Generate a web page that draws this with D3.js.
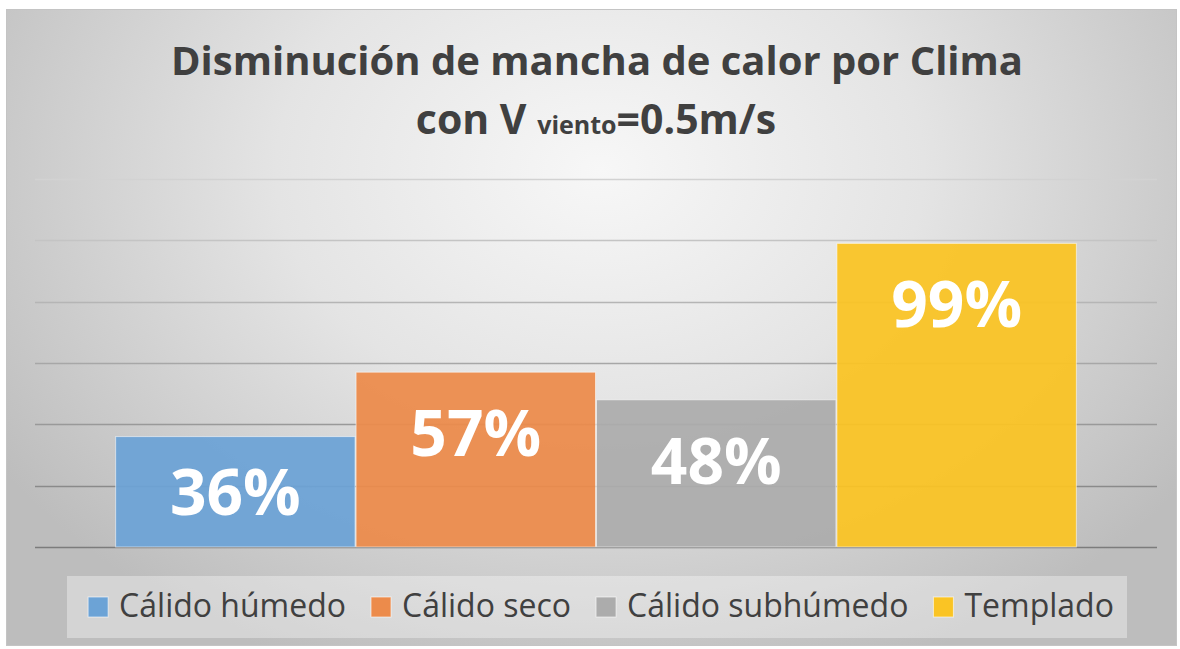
<!DOCTYPE html>
<html>
<head>
<meta charset="utf-8">
<script src="https://cdn.jsdelivr.net/npm/d3@7"></script>
<style>
  html, body { margin: 0; padding: 0; background: #fff; }
  svg text { font-family: "Open Sans", "Noto Sans", sans-serif; }
</style>
</head>
<body>
<div id="chart"></div>
<script>
const climas = ["Cálido húmedo", "Cálido seco", "Cálido subhúmedo", "Templado"];
const valores = [0.36, 0.57, 0.48, 0.99];
const colores = ["#6ca3d6", "#ec8b4b", "#acacac", "#fac424"];
const gridTicks = [0, 0.2, 0.4, 0.6, 0.8, 1.0, 1.2];

const W = 1180, H = 649;
const plot = {left: 35, right: 1157, top: 179, bottom: 547};

const svg = d3.select("#chart").append("svg")
    .attr("width", W)
    .attr("height", H);

const defs = svg.append("defs");
const bg = defs.append("radialGradient")
    .attr("id", "bg")
    .attr("gradientUnits", "userSpaceOnUse")
    .attr("cx", 600).attr("cy", 170).attr("r", 720)
    .attr("gradientTransform", "translate(600,170) scale(1,0.75) translate(-600,-170)");
bg.append("stop").attr("offset", "0").attr("stop-color", "#f7f7f7");
bg.append("stop").attr("offset", "0.45").attr("stop-color", "#e4e4e4");
bg.append("stop").attr("offset", "1").attr("stop-color", "#bdbdbd");

// chart frame
svg.append("rect")
    .attr("x", 6.5).attr("y", 9.5)
    .attr("width", 1170).attr("height", 636)
    .attr("fill", "url(#bg)")
    .attr("stroke", "#c4c4c4");

const x = d3.scaleBand()
    .domain(climas)
    .range([plot.left, plot.right])
    .paddingInner(0)
    .paddingOuter(1 / 3);

const y = d3.scaleLinear()
    .domain([0, 1.2])
    .range([plot.bottom, plot.top]);

const gridColor = d3.scaleLinear()
    .domain([1.2, 0])
    .range(["#d2d2d2", "#7c7c7c"]);

svg.append("g")
    .selectAll("line")
    .data(gridTicks)
    .join("line")
    .attr("x1", plot.left)
    .attr("x2", plot.right)
    .attr("y1", d => Math.round(y(d)) + 0.5)
    .attr("y2", d => Math.round(y(d)) + 0.5)
    .attr("stroke", d => gridColor(d))
    .attr("stroke-width", d => d === 0 ? 1.6 : 1.3);

const bars = svg.append("g");
bars.selectAll("rect")
    .data(climas)
    .join("rect")
    .attr("x", d => x(d) + 0.5)
    .attr("y", (d, i) => y(valores[i]))
    .attr("width", x.bandwidth() - 1)
    .attr("height", (d, i) => y(0) - y(valores[i]))
    .attr("fill", (d, i) => colores[i])
    .attr("fill-opacity", 0.94)
    .attr("stroke", "rgba(255,255,255,0.55)")
    .attr("stroke-width", 1);

bars.selectAll("text")
    .data(climas)
    .join("text")
    .attr("x", d => x(d) + x.bandwidth() / 2)
    .attr("y", (d, i) => {
        const top = y(valores[i]);
        return Math.min(top + 84, (top + y(0)) / 2 + 23);
    })
    .attr("text-anchor", "middle")
    .attr("fill", "#ffffff")
    .style("font-size", "64px")
    .style("font-weight", "bold")
    .text((d, i) => d3.format(".0%")(valores[i]));

// title
svg.append("text")
    .attr("x", 597).attr("y", 75)
    .attr("text-anchor", "middle")
    .attr("fill", "#404040")
    .style("font-weight", "bold")
    .style("font-size", "40px")
    .text("Disminución de mancha de calor por Clima");
const line2 = svg.append("text")
    .attr("x", 596).attr("y", 134)
    .attr("text-anchor", "middle")
    .attr("fill", "#404040")
    .style("font-weight", "bold");
line2.append("tspan").style("font-size", "41px").text("con V ");
line2.append("tspan").style("font-size", "25px").text("viento");
line2.append("tspan").style("font-size", "41px").text("=0.5m/s");

// legend
svg.append("rect")
    .attr("x", 67).attr("y", 576)
    .attr("width", 1060).attr("height", 62)
    .attr("fill", "rgba(255,255,255,0.35)");

const legend = svg.append("g");
const items = legend.selectAll("g")
    .data(climas)
    .join("g");
items.append("rect")
    .attr("width", 20).attr("height", 20)
    .attr("y", 597)
    .attr("fill", (d, i) => colores[i])
    .attr("stroke", "rgba(255,255,255,0.6)");
items.append("text")
    .attr("x", 31)
    .attr("y", 617)
    .attr("fill", "#404040")
    .style("font-size", "32px")
    .text(d => d);

let widths = [];
items.each(function() {
    widths.push(this.querySelector("text").getComputedTextLength());
});
const total = d3.sum(widths, w => 31 + w) + 25 * (climas.length - 1);
let cx = 601 - total / 2;
items.attr("transform", (d, i) => {
    const t = `translate(${cx},0)`;
    cx += 31 + widths[i] + 25;
    return t;
});
</script>
</body>
</html>
